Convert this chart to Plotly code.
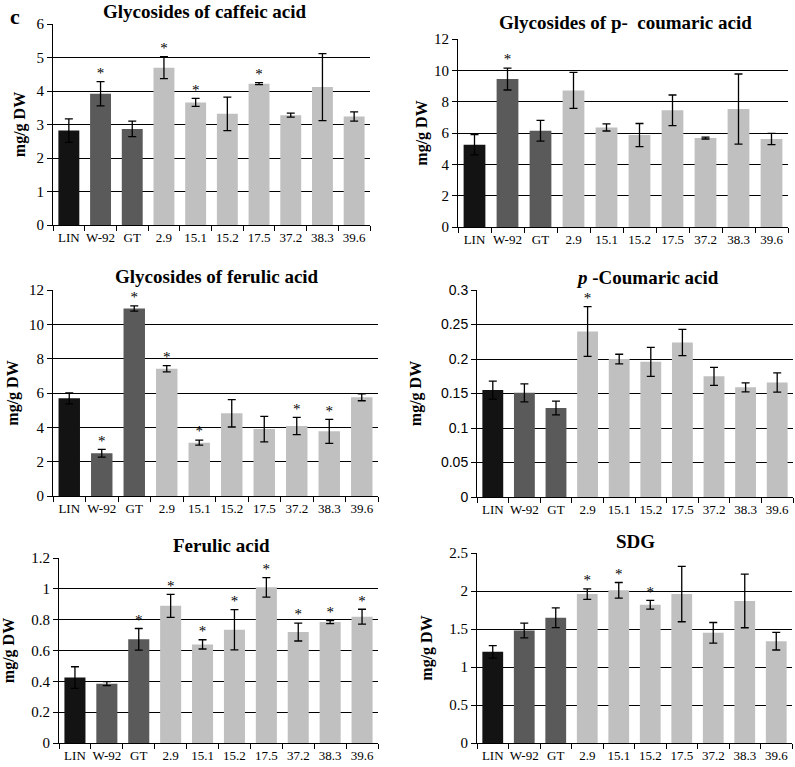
import plotly.graph_objects as go

categories = ["LIN", "W-92", "GT", "2.9", "15.1", "15.2", "17.5", "37.2", "38.3", "39.6"]

caffeic_vals = [2.82, 3.92, 2.87, 4.70, 3.66, 3.32, 4.22, 3.28, 4.12, 3.24]
caffeic_err = [0.35, 0.36, 0.23, 0.33, 0.12, 0.50, 0.03, 0.06, 1.00, 0.14]
caffeic_sig = [0, 1, 0, 1, 1, 0, 1, 0, 0, 0]

pcoum_gly_vals = [5.25, 9.45, 6.15, 8.72, 6.36, 5.87, 7.45, 5.68, 7.53, 5.62]
pcoum_gly_err = [0.65, 0.70, 0.66, 1.15, 0.23, 0.74, 0.98, 0.06, 2.24, 0.36]
pcoum_gly_sig = [0, 1, 0, 0, 0, 0, 0, 0, 0, 0]

ferulic_gly_vals = [5.69, 2.49, 10.93, 7.42, 3.11, 4.82, 3.90, 4.08, 3.77, 5.75]
ferulic_gly_err = [0.32, 0.23, 0.15, 0.18, 0.15, 0.80, 0.74, 0.50, 0.70, 0.20]
ferulic_gly_sig = [0, 1, 1, 1, 1, 0, 0, 1, 1, 0]

pcoum_vals = [0.155, 0.151, 0.129, 0.240, 0.200, 0.196, 0.224, 0.175, 0.159, 0.166]
pcoum_err = [0.013, 0.013, 0.010, 0.036, 0.007, 0.021, 0.019, 0.013, 0.0065, 0.014]
pcoum_sig = [0, 0, 0, 1, 0, 0, 0, 0, 0, 0]

ferulic_vals = [0.425, 0.385, 0.673, 0.890, 0.640, 0.735, 1.010, 0.720, 0.785, 0.820]
ferulic_err = [0.070, 0.013, 0.070, 0.075, 0.030, 0.130, 0.063, 0.058, 0.010, 0.048]
ferulic_sig = [0, 0, 1, 1, 1, 1, 1, 1, 1, 1]

sdg_vals = [1.20, 1.48, 1.65, 1.96, 2.01, 1.82, 1.96, 1.45, 1.87, 1.34]
sdg_err = [0.083, 0.097, 0.13, 0.068, 0.103, 0.057, 0.364, 0.136, 0.353, 0.116]
sdg_sig = [0, 0, 0, 1, 1, 1, 0, 0, 0, 0]

W, H = 795, 767
SERIF = "Liberation Serif"
SANS = "Liberation Sans"
bar_colors = ["#131313", "#5a5a5a", "#5a5a5a"] + ["#c0c0c0"] * 7

panels = [
    dict(title="<b>Glycosides of caffeic acid</b>", vals=caffeic_vals, err=caffeic_err, sig=caffeic_sig,
         box=(53, 24, 370, 225), ymax=6, dtick=1, tpos=(205, 11), tickfam=SERIF, tsize=15, standoff=6),
    dict(title="<b>Glycosides of p-\u00a0 coumaric acid</b>", vals=pcoum_gly_vals, err=pcoum_gly_err, sig=pcoum_gly_sig,
         box=(458, 39, 788, 227), ymax=12, dtick=2, tpos=(625, 23), tickfam=SERIF, tsize=15, standoff=2),
    dict(title="<b>Glycosides of ferulic acid</b>", vals=ferulic_gly_vals, err=ferulic_gly_err, sig=ferulic_gly_sig,
         box=(53, 290, 378, 496), ymax=12, dtick=2, tpos=(217, 276), tickfam=SERIF, tsize=15, standoff=6),
    dict(title="<b><i>p</i> -Coumaric acid</b>", vals=pcoum_vals, err=pcoum_err, sig=pcoum_sig,
         box=(477, 290, 793, 497), ymax=0.3, dtick=0.05, tpos=(647, 277), tickfam=SANS, tsize=14, standoff=15),
    dict(title="<b>Ferulic acid</b>", vals=ferulic_vals, err=ferulic_err, sig=ferulic_sig,
         box=(59, 558, 378, 743), ymax=1.2, dtick=0.2, tpos=(221, 545), tickfam=SERIF, tsize=15, standoff=12),
    dict(title="<b>SDG</b>", vals=sdg_vals, err=sdg_err, sig=sdg_sig,
         box=(477, 553, 792, 743), ymax=2.5, dtick=0.5, tpos=(635, 541), tickfam=SERIF, tsize=15, standoff=12),
]

fig = go.Figure()
annotations = []
layout = {}
for i, p in enumerate(panels, start=1):
    xa = "x" if i == 1 else f"x{i}"
    ya = "y" if i == 1 else f"y{i}"
    fig.add_trace(go.Bar(
        x=categories, y=p["vals"], xaxis=xa, yaxis=ya,
        marker=dict(color=bar_colors, line=dict(width=0)),
        error_y=dict(type="data", array=p["err"], visible=True, color="black", thickness=1.3, width=4),
        showlegend=False, hoverinfo="skip",
    ))
    sx = [c for c, s in zip(categories, p["sig"]) if s]
    sy = [v + e for v, e, s in zip(p["vals"], p["err"], p["sig"]) if s]
    fig.add_trace(go.Scatter(
        x=sx, y=sy, xaxis=xa, yaxis=ya, mode="text", text=["*"] * len(sx),
        textposition="top center", textfont=dict(family=SERIF, size=15, color="#000000"),
        showlegend=False, hoverinfo="skip", cliponaxis=False,
    ))
    x0, y0, x1, y1 = p["box"]
    kx = "xaxis" if i == 1 else f"xaxis{i}"
    ky = "yaxis" if i == 1 else f"yaxis{i}"
    layout[kx] = dict(
        domain=[x0 / W, x1 / W], anchor=ya, type="category",
        showline=True, linecolor="black", linewidth=1,
        ticks="outside", tickson="boundaries", ticklen=5, tickcolor="black",
        showgrid=False, tickangle=0, automargin=False,
        tickfont=dict(family=SERIF, size=13, color="black"),
        fixedrange=True,
    )
    layout[ky] = dict(
        domain=[1 - y1 / H, 1 - y0 / H], anchor=xa,
        range=[0, p["ymax"] * 1.0005], dtick=p["dtick"], tick0=0,
        showline=True, linecolor="black", linewidth=1,
        ticks="outside", ticklen=5, tickcolor="black", automargin=False,
        showgrid=True, gridcolor="black", gridwidth=1, zeroline=False,
        tickfont=dict(family=p["tickfam"], size=p["tsize"], color="black"),
        title=dict(text="<b>mg/g DW</b>", font=dict(family=SERIF, size=16, color="black"),
                   standoff=p["standoff"]),
        fixedrange=True,
    )
    annotations.append(dict(
        text=p["title"], x=p["tpos"][0] / W, y=1 - p["tpos"][1] / H, xref="paper", yref="paper",
        xanchor="center", yanchor="middle", showarrow=False,
        font=dict(family=SERIF, size=19, color="black"),
    ))

annotations.append(dict(
    text="<b>c</b>", x=15 / W, y=1 - 17 / H, xref="paper", yref="paper",
    xanchor="center", yanchor="middle", showarrow=False,
    font=dict(family=SERIF, size=22, color="black"),
))

fig.update_layout(
    width=W, height=H, margin=dict(l=0, r=0, t=0, b=0, pad=0, autoexpand=False),
    paper_bgcolor="white", plot_bgcolor="white",
    bargap=0.34, annotations=annotations, **layout,
)

fig.write_html(
    "out.html",
    config={"displayModeBar": False},
    post_script="document.documentElement.style.margin='0';document.body.style.margin='0';"
                "document.body.style.overflow='hidden';",
)
